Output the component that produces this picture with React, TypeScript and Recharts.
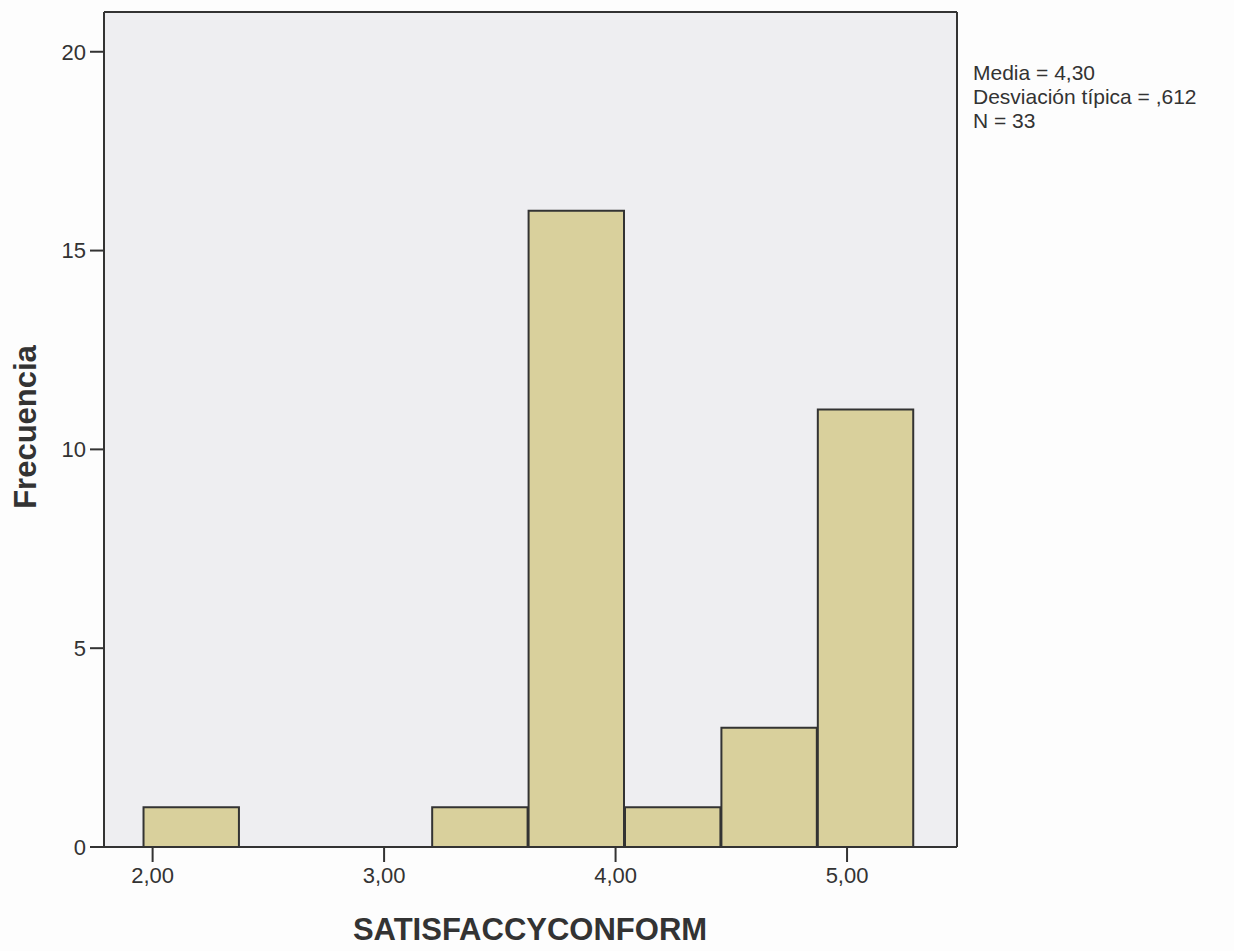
import React from "react";
import {
  BarChart,
  Bar,
  XAxis,
  YAxis,
  CartesianGrid,
  ReferenceLine,
} from "recharts";

// histogram bins (centre of each bin) and their counts
const binCenters: number[] = [2.169, 3.416, 3.8325, 4.249, 4.6655, 5.082];
const counts: number[] = [1, 1, 16, 1, 3, 11];
const binWidth = 0.4165;

const xTicks: number[] = [2, 3, 4, 5];
const yTicks: number[] = [0, 5, 10, 15, 20];
const xDomain: [number, number] = [1.79, 5.475];
const yDomain: [number, number] = [0, 21];

const statLines: string[] = ["Media = 4,30", "Desviación típica = ,612", "N = 33"];

const data = binCenters.map((c, i) => ({ center: c, count: counts[i] }));

const W = 1234;
const H = 951;
const margin = { top: 12, right: 277, left: 0, bottom: 0 };
const yAxisWidth = 104;
const xAxisHeight = 104;
const plotW = W - margin.left - margin.right - yAxisWidth;
const barPx = (binWidth * plotW) / (xDomain[1] - xDomain[0]) - 1;

const font = "'Liberation Sans', Arial, sans-serif";
const ink = "#333333";

const fmtX = (v: number) => v.toFixed(2).replace(".", ",");

const App = (): JSX.Element => {
  return (
    <div style={{ position: "absolute", left: 0, top: 0, width: W, height: H, background: "#fdfdfd" }}>
      <BarChart
        width={W}
        height={H}
        data={data}
        margin={margin}
        barCategoryGap={0}
        barGap={0}
        style={{ fontFamily: font }}
      >
        <CartesianGrid horizontal={false} vertical={false} fill="#eeeef1" />
        <XAxis
          type="number"
          dataKey="center"
          domain={xDomain}
          ticks={xTicks}
          allowDataOverflow
          tickFormatter={fmtX}
          height={xAxisHeight}
          tickSize={15}
          tickMargin={5}
          axisLine={{ stroke: ink, strokeWidth: 2 }}
          tickLine={{ stroke: ink, strokeWidth: 2 }}
          tick={{ fill: ink, fontSize: 22, fontFamily: font }}
        />
        <YAxis
          type="number"
          domain={yDomain}
          ticks={yTicks}
          allowDataOverflow
          width={yAxisWidth}
          tickSize={14}
          tickMargin={4}
          axisLine={{ stroke: ink, strokeWidth: 2 }}
          tickLine={{ stroke: ink, strokeWidth: 2 }}
          tick={{ fill: ink, fontSize: 22, fontFamily: font }}
        />
        <Bar
          dataKey="count"
          fill="#d9d09c"
          stroke={ink}
          strokeWidth={2}
          barSize={barPx}
          isAnimationActive={false}
        />
        <ReferenceLine y={yDomain[1]} stroke={ink} strokeWidth={2} ifOverflow="visible" />
        <ReferenceLine x={xDomain[1]} stroke={ink} strokeWidth={2} ifOverflow="visible" />
        <text
          x={36}
          y={427}
          transform="rotate(-90, 36, 427)"
          textAnchor="middle"
          fontSize={31}
          fontWeight="bold"
          fill={ink}
          fontFamily={font}
        >
          Frecuencia
        </text>
        <text x={530} y={940} textAnchor="middle" fontSize={31} fontWeight="bold" fill={ink} fontFamily={font}>
          SATISFACCYCONFORM
        </text>
        {statLines.map((s, i) => (
          <text key={s} x={973} y={80 + i * 24} fontSize={21} fill={ink} fontFamily={font}>
            {s}
          </text>
        ))}
      </BarChart>
    </div>
  );
};

export default App;
